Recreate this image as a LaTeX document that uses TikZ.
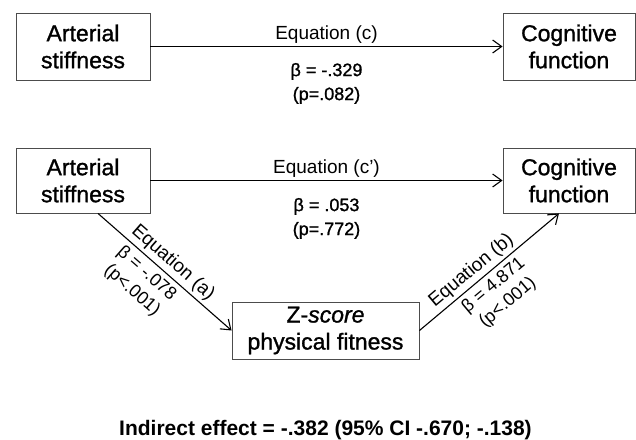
\documentclass[tikz,border=0pt]{standalone}
\usepackage{fontspec}
\setmainfont{Liberation Sans}
\newfontfamily\heavyfont[FakeBold=1.2]{Liberation Sans}
\usetikzlibrary{arrows.meta}
\begin{document}
\begin{tikzpicture}[x=1pt,y=-1pt,>={Straight Barb[length=9pt,width=13pt]},
  box/.style={draw=black!70,line width=.9pt,align=center,inner sep=0pt,
    font=\heavyfont\fontsize{23}{27}\selectfont},
  eqlab/.style={font=\fontsize{19}{22}\selectfont,inner sep=3pt},
  stat/.style={font=\heavyfont\fontsize{18}{24}\selectfont,align=center,inner sep=0pt},
  dstat/.style={font=\fontsize{18}{22}\selectfont,align=center,inner sep=4.5pt},
  effect/.style={->,line width=1.1pt}]
  \useasboundingbox (0,0) rectangle (636,439);
  % total effect
  \node[box,minimum width=134pt,minimum height=67pt] (as1) at (83,46.5) {Arterial\\stiffness};
  \node[box,minimum width=132pt,minimum height=67pt] (cf1) at (569,46.5) {Cognitive\\function};
  \draw[effect] (as1) -- (cf1) node[eqlab,midway,above] (eqc) {Equation (c)}
    node[stat,midway,below=16pt] (bc) {β = -.329\\(p=.082)};
  % mediation model
  \node[box,minimum width=134pt,minimum height=65pt] (as2) at (83,180.5) {Arterial\\stiffness};
  \node[box,minimum width=132pt,minimum height=65pt] (cf2) at (569,180.5) {Cognitive\\function};
  \node[box,minimum width=187pt,minimum height=57pt] (zs) at (325.5,330.5) {Z-\textit{score}\\physical fitness};
  \draw[effect] (as2) -- (cf2) node[eqlab,midway,above] (eqcp) {Equation (c')}
    node[stat,midway,below=17pt] (bcp) {β = .053\\(p=.772)};
  \draw[effect] ([xshift=15pt]as2.south) -- (zs.west)
    node[eqlab,sloped,above,pos=.5] (eqa) {Equation (a)}
    node[dstat,sloped,below,pos=.43] (ba) {β = -.078\\(p<.001)};
  \draw[effect] (zs.east) -- ([xshift=-10pt]cf2.south)
    node[eqlab,sloped,above,pos=.43] (eqb) {Equation (b)}
    node[dstat,sloped,below,pos=.47] (bb) {β = 4.871\\(p<.001)};
  \node[font=\fontsize{21}{24}\selectfont\bfseries,anchor=base] (ind) at (325.5,435)
    {Indirect effect = -.382 (95\% CI -.670; -.138)};
\end{tikzpicture}
\end{document}
